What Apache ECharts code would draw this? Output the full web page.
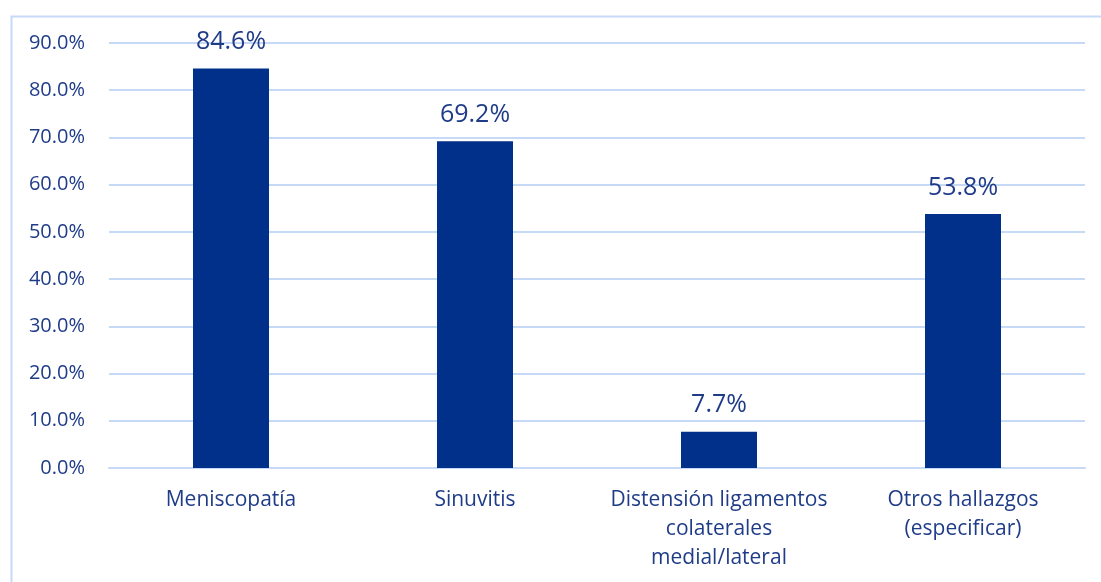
<!DOCTYPE html>
<html>
<head>
<meta charset="utf-8">
<script src="https://cdn.jsdelivr.net/npm/echarts@6/dist/echarts.min.js"></script>
<style>
  html, body { margin: 0; padding: 0; background: #fff; }
  #chart { width: 1101px; height: 582px; }
</style>
</head>
<body>
<div id="chart"></div>
<script>
// Hallazgos (% de pacientes)
const categories = [
  'Meniscopatía',
  'Sinuvitis',
  'Distensión ligamentos\ncolaterales\nmedial/lateral',
  'Otros hallazgos\n(especificar)'
];
const values = [84.6, 69.2, 7.7, 53.8];

const textColor = '#1F3C88';
const barColor = '#00308A';
const gridColor = '#C6D9F7';
const fontFamily = '"Open Sans", "Noto Sans", sans-serif';

const chart = echarts.init(document.getElementById('chart'));
chart.setOption({
  animation: false,
  backgroundColor: '#ffffff',
  graphic: [{
    type: 'rect',
    left: 9, top: 14,
    shape: { width: 1200, height: 700 },
    style: { fill: 'none', stroke: gridColor, lineWidth: 2 }
  }],
  grid: {
    left: 109, right: 16, top: 43, bottom: 114,
    containLabel: false,
    outerBoundsMode: 'none'
  },
  xAxis: {
    type: 'category',
    data: categories,
    axisLine: { show: true, lineStyle: { color: gridColor, width: 2 } },
    axisTick: { show: false },
    axisLabel: {
      color: textColor,
      fontFamily: fontFamily,
      fontSize: 21,
      lineHeight: 29,
      margin: 18,
      interval: 0
    }
  },
  yAxis: {
    type: 'value',
    min: 0, max: 90, interval: 10,
    axisLine: { show: false },
    axisTick: { show: false },
    splitLine: { lineStyle: { color: gridColor, width: 2 } },
    axisLabel: {
      color: textColor,
      fontFamily: fontFamily,
      fontSize: 20,
      margin: 24,
      formatter: v => v.toFixed(1) + '%'
    }
  },
  series: [{
    type: 'bar',
    data: values,
    barWidth: 76,
    itemStyle: { color: barColor },
    label: {
      show: true,
      position: 'top',
      distance: 14,
      color: textColor,
      fontFamily: fontFamily,
      fontSize: 25,
      formatter: p => p.value.toFixed(1) + '%'
    }
  }]
});
</script>
</body>
</html>
